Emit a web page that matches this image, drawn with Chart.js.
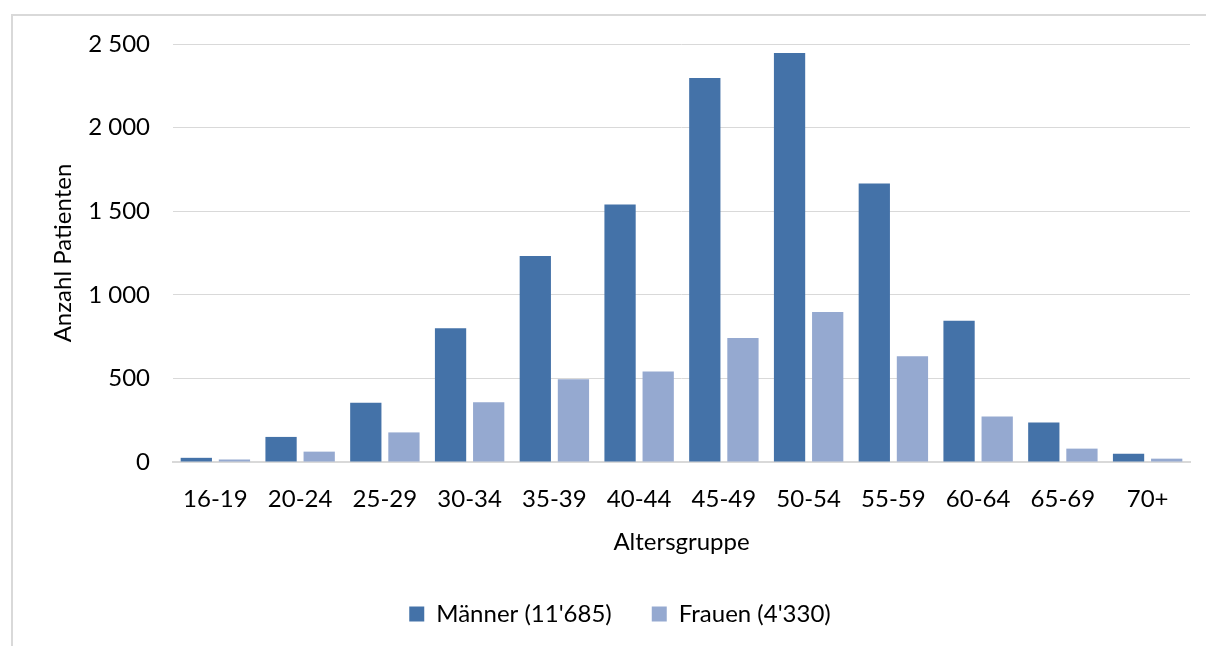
<!DOCTYPE html>
<html>
<head>
<meta charset="utf-8">
<script src="https://cdn.jsdelivr.net/npm/chart.js@4.4.0/dist/chart.umd.min.js"></script>
<style>
  html, body { margin: 0; padding: 0; background: #fff; }
  #wrap { width: 1206px; height: 646px; position: relative; }
</style>
</head>
<body>
<div id="wrap"><canvas id="chart" width="1206" height="646"></canvas></div>
<script>
    "use strict";

    // Daten
    var kategorien = ["16-19", "20-24", "25-29", "30-34", "35-39", "40-44", "45-49", "50-54", "55-59", "60-64", "65-69", "70+"];
    var maenner = [25, 150, 355, 800, 1232, 1540, 2296, 2446, 1665, 845, 236, 50];
    var frauen = [15, 62, 177, 357, 495, 541, 742, 897, 633, 272, 80, 20];
    var serienNamen = ["Männer (11'685)", "Frauen (4'330)"];
    var yTicks = [0, 500, 1000, 1500, 2000, 2500];

    var schrift = "Lato, 'Open Sans', sans-serif";
    var groesse = 24;
    var grau = "#d9d9d9";

    function tausender(v) {
        return String(v).replace(/\B(?=(\d{3})+(?!\d))/g, " ");
    }

    // Rahmen links und oben
    var rahmen = {
        id: "rahmen",
        beforeDraw: function(chart) {
            var ctx = chart.ctx;
            ctx.save();
            ctx.strokeStyle = grau;
            ctx.lineWidth = 2;
            ctx.beginPath();
            ctx.moveTo(12, 646);
            ctx.lineTo(12, 15);
            ctx.lineTo(1206, 15);
            ctx.stroke();
            ctx.restore();
        },
        // Legende etwas nach rechts schieben
        afterLayout: function(chart) {
            chart.legend.left += 25;
            chart.legend.right += 25;
        }
    };

    var ctx = document.getElementById("chart").getContext("2d");
    var myChart = new Chart(ctx, {
        type: "bar",
        data: {
            labels: kategorien,
            datasets: [{
                label: serienNamen[0],
                data: maenner,
                backgroundColor: "#4472a8"
            }, {
                label: serienNamen[1],
                data: frauen,
                backgroundColor: "#95a9d0"
            }]
        },
        options: {
            responsive: false,
            animation: false,
            categoryPercentage: 0.9,
            barPercentage: 0.82,
            layout: { padding: { left: 0, top: 44, right: 16, bottom: 10 } },
            plugins: {
                tooltip: { enabled: false },
                legend: {
                    position: "bottom",
                    labels: {
                        boxWidth: 15,
                        boxHeight: 15,
                        padding: 40,
                        color: "#000",
                        font: { family: schrift, size: groesse }
                    }
                }
            },
            scales: {
                x: {
                    grid: { display: false, drawTicks: false },
                    border: { display: true, color: grau, width: 2 },
                    ticks: {
                        color: "#000",
                        padding: 22.6,
                        maxRotation: 0,
                        font: { family: schrift, size: groesse }
                    },
                    title: {
                        display: true,
                        text: "Altersgruppe",
                        color: "#000",
                        padding: { top: 0, bottom: 5 },
                        font: { family: schrift, size: groesse }
                    },
                    afterFit: function(scale) { scale.height = 100; }
                },
                y: {
                    min: 0,
                    max: 2500,
                    afterBuildTicks: function(scale) {
                        scale.ticks = yTicks.map(function(v) { return { value: v }; });
                    },
                    grid: { color: grau, lineWidth: 1, drawTicks: false },
                    border: { display: false },
                    ticks: {
                        color: "#000",
                        padding: 23,
                        font: { family: schrift, size: groesse },
                        callback: function(v) { return tausender(v); }
                    },
                    title: {
                        display: true,
                        text: "Anzahl Patienten",
                        color: "#000",
                        padding: { top: 48.6, bottom: 0 },
                        font: { family: schrift, size: groesse }
                    },
                    afterFit: function(scale) { scale.width = 173; }
                }
            }
        },
        plugins: [rahmen]
    });
</script>
</body>
</html>
